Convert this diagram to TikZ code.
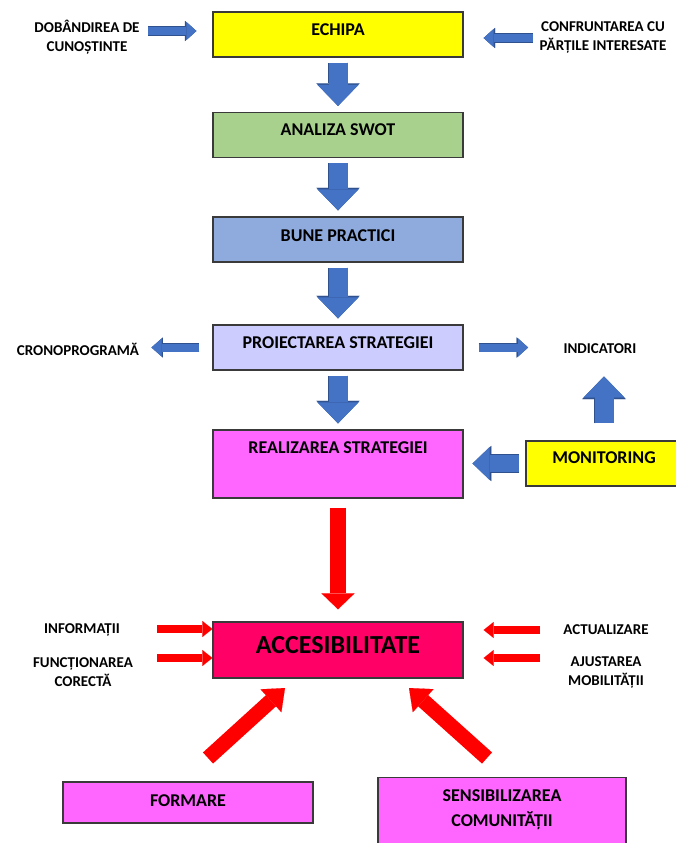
\documentclass[tikz,border=0pt]{standalone}
\usepackage{fontspec}
\setmainfont{Carlito}
\usetikzlibrary{arrows.meta}

\definecolor{cYellow}{HTML}{FFFF00}
\definecolor{cGreen}{HTML}{A9D18E}
\definecolor{cBlue}{HTML}{8FAADC}
\definecolor{cLilac}{HTML}{CCCCFF}
\definecolor{cMagenta}{HTML}{FF66FF}
\definecolor{cRose}{HTML}{FF0066}
\definecolor{cLine}{HTML}{3A3A3A}
\definecolor{arrBlue}{HTML}{4472C4}
\definecolor{arrEdge}{HTML}{2F528F}
\definecolor{arrRed}{HTML}{FF0000}

\tikzset{
  box/.style={draw=cLine, line width=1.3pt, minimum width=250pt, minimum height=45pt,
              align=center, font=\fontsize{18}{25}\selectfont\bfseries},
  lbl/.style={align=center, font=\fontsize{15}{19}\selectfont\bfseries},
  bigblue/.style={draw=arrBlue, line width=19pt, shorten <=5pt, shorten >=6pt,
                  -{Triangle[length=21pt, width=41pt, line width=0.1pt]},
                  preaction={draw=arrEdge, line width=20.6pt,
                  -{Triangle[length=22.6pt, width=43.4pt, line width=0.1pt]}}},
  midblue/.style={draw=arrBlue, line width=17pt,
                  -{Triangle[length=17pt, width=33pt, line width=0.1pt]},
                  preaction={draw=arrEdge, line width=18.6pt,
                  -{Triangle[length=18.6pt, width=35.4pt, line width=0.1pt]}}},
  smallblue/.style={draw=arrBlue, line width=8pt,
                  -{Triangle[length=10pt, width=18pt, line width=0.1pt]},
                  preaction={draw=arrEdge, line width=9.4pt,
                  -{Triangle[length=11.4pt, width=20.2pt, line width=0.1pt]}}},
  bigred/.style={draw=arrRed, line width=16pt,
                  -{Triangle[length=16pt, width=33pt, line width=0.1pt]}},
  fatred/.style={draw=arrRed, line width=15pt,
                  -{Triangle[length=19pt, width=31pt, line width=0.1pt]}},
  thinred/.style={draw=arrRed, line width=8pt,
                  -{Triangle[length=10pt, width=16pt, line width=0.1pt]}},
}

\begin{document}
\begin{tikzpicture}[x=1pt, y=-1pt]
  \useasboundingbox (0,0) rectangle (675,843);

  % boxes
  \node[box, fill=cYellow, text depth=9pt]   (echipa)  at (338,34.5)  {ECHIPA};
  \node[box, fill=cGreen, text depth=10pt]   (swot)    at (338,135)   {ANALIZA SWOT};
  \node[box, fill=cBlue, text depth=7pt]     (bune)    at (338,239.5) {BUNE PRACTICI};
  \node[box, fill=cLilac, text depth=9pt]    (proiect) at (338,347.5) {PROIECTAREA STRATEGIEI};
  \node[box, fill=cMagenta, minimum height=68pt, text depth=32pt] (realiz) at (338,464) {REALIZAREA STRATEGIEI};
  \node[box, fill=cYellow, minimum width=156pt, text depth=11pt]  (monitor) at (604,463.5) {MONITORING};
  \node[box, fill=cRose, minimum height=56pt, text depth=10pt,
        font=\fontsize{26}{30}\selectfont\bfseries] (acces) at (338,650) {ACCESIBILITATE};
  \node[box, fill=cMagenta, minimum height=41pt, text depth=4pt]  (formare) at (188,802.5) {FORMARE};
  \node[box, fill=cMagenta, minimum width=248pt, minimum height=72pt, text depth=12pt, anchor=north]
        (sensib) at (502,777) {SENSIBILIZAREA\\COMUNITĂȚII};

  % side labels
  \node[lbl] (dob)    at (87,37.5)  {DOBÂNDIREA DE\\CUNOȘTINTE};
  \node[lbl] (conf)   at (603,37.5) {CONFRUNTAREA CU\\PĂRȚILE INTERESATE};
  \node[lbl] (crono)  at (78,349.5) {CRONOPROGRAMĂ};
  \node[lbl] (indic)  at (600,349)  {INDICATORI};
  \node[lbl] (info)   at (82,630)   {INFORMAȚII};
  \node[lbl] (func)   at (83,672)   {FUNCȚIONAREA\\CORECTĂ};
  \node[lbl] (actual) at (606,630)  {ACTUALIZARE};
  \node[lbl] (ajust)  at (606,672)  {AJUSTAREA\\MOBILITĂȚII};

  % arrow ends
  \coordinate (dobend)  at (148,31);
  \coordinate (confend) at (533,38);
  \coordinate (infoend) at (157,629);
  \coordinate (funcend) at (157,658);
  \coordinate (actend)  at (540,630);
  \coordinate (ajend)   at (540,658);
  \coordinate (fortail) at (208,758);
  \coordinate (fortip)  at (285,688);
  \coordinate (sentail) at (487,758);
  \coordinate (sentip)  at (409,688);

  % blue arrows
  \foreach \a/\b in {echipa/swot, swot/bune, bune/proiect, proiect/realiz}
    \draw[bigblue] (\a) -- (\b);
  \draw[smallblue, shorten >=16pt] (dobend) -- (dobend -| echipa.west);
  \draw[smallblue, shorten >=20pt] (confend) -- (confend -| echipa.east);
  \draw[smallblue, shorten <=13pt, shorten >=9pt] (proiect.west) -- (proiect.west -| crono.east);
  \draw[smallblue, shorten <=15pt, shorten >=32pt] (proiect.east) -- (proiect.east -| indic.west);
  \draw[midblue, shorten <=6pt, shorten >=9pt] (monitor.west) -- (monitor.west -| realiz.east);
  \draw[bigblue, shorten <=17pt, shorten >=19pt] (monitor.north) -- (monitor.north |- indic.south);

  % red arrows
  \draw[bigred, shorten <=9pt, shorten >=12pt] (realiz) -- (acces);
  \draw[thinred] (infoend) -- (infoend -| acces.west);
  \draw[thinred] (funcend) -- (funcend -| acces.west);
  \draw[thinred, shorten >=20pt] (actend) -- (actend -| acces.east);
  \draw[thinred, shorten >=20pt] (ajend) -- (ajend -| acces.east);
  \draw[fatred] (fortail) -- (fortip);
  \draw[fatred] (sentail) -- (sentip);
\end{tikzpicture}
\end{document}
